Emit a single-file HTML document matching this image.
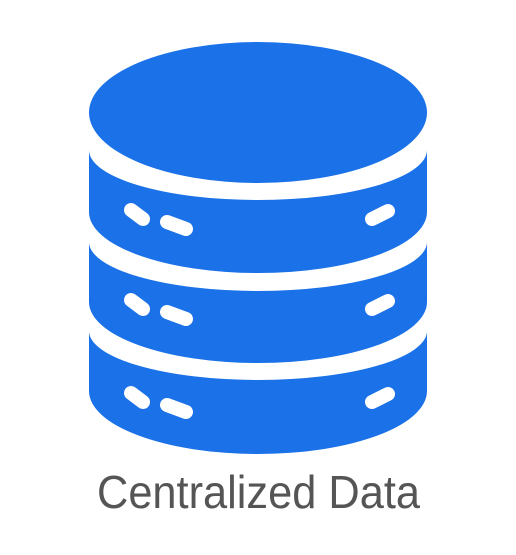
<!DOCTYPE html>
<html><head><style>html,body{margin:0;padding:0;background:#fff;width:516px;height:555px;overflow:hidden}</style></head>
<body>
<svg width="516" height="555" viewBox="0 0 516 555" xmlns="http://www.w3.org/2000/svg">
<g fill="#1a71e8">
<ellipse cx="258" cy="112.5" rx="169" ry="70.5"/>
<path d="M89,150 A169,50 0 0 0 427,150 L427,212 A169,61 0 0 1 89,212 Z"/>
<path d="M89,242 A169,49 0 0 0 427,242 L427,302 A169,61 0 0 1 89,302 Z"/>
<path d="M89,331 A169,49 0 0 0 427,331 L427,391 A169,63 0 0 1 89,391 Z"/>
</g>
<g stroke="#fff" stroke-width="14" stroke-linecap="round" fill="none">
<path d="M131,210 L143,219 M167,222 L186,229 M372,219 L388,211"/>
<path d="M131,300 L143,309 M167,312 L186,319 M372,309 L388,301"/>
<path d="M131,393 L143,402 M167,405 L186,412 M372,402 L388,394"/>
</g>
<text x="97" y="508" font-family="Liberation Sans, sans-serif" font-size="46" fill="#555" textLength="323" lengthAdjust="spacingAndGlyphs">Centralized Data</text>
</svg>
</body></html>
